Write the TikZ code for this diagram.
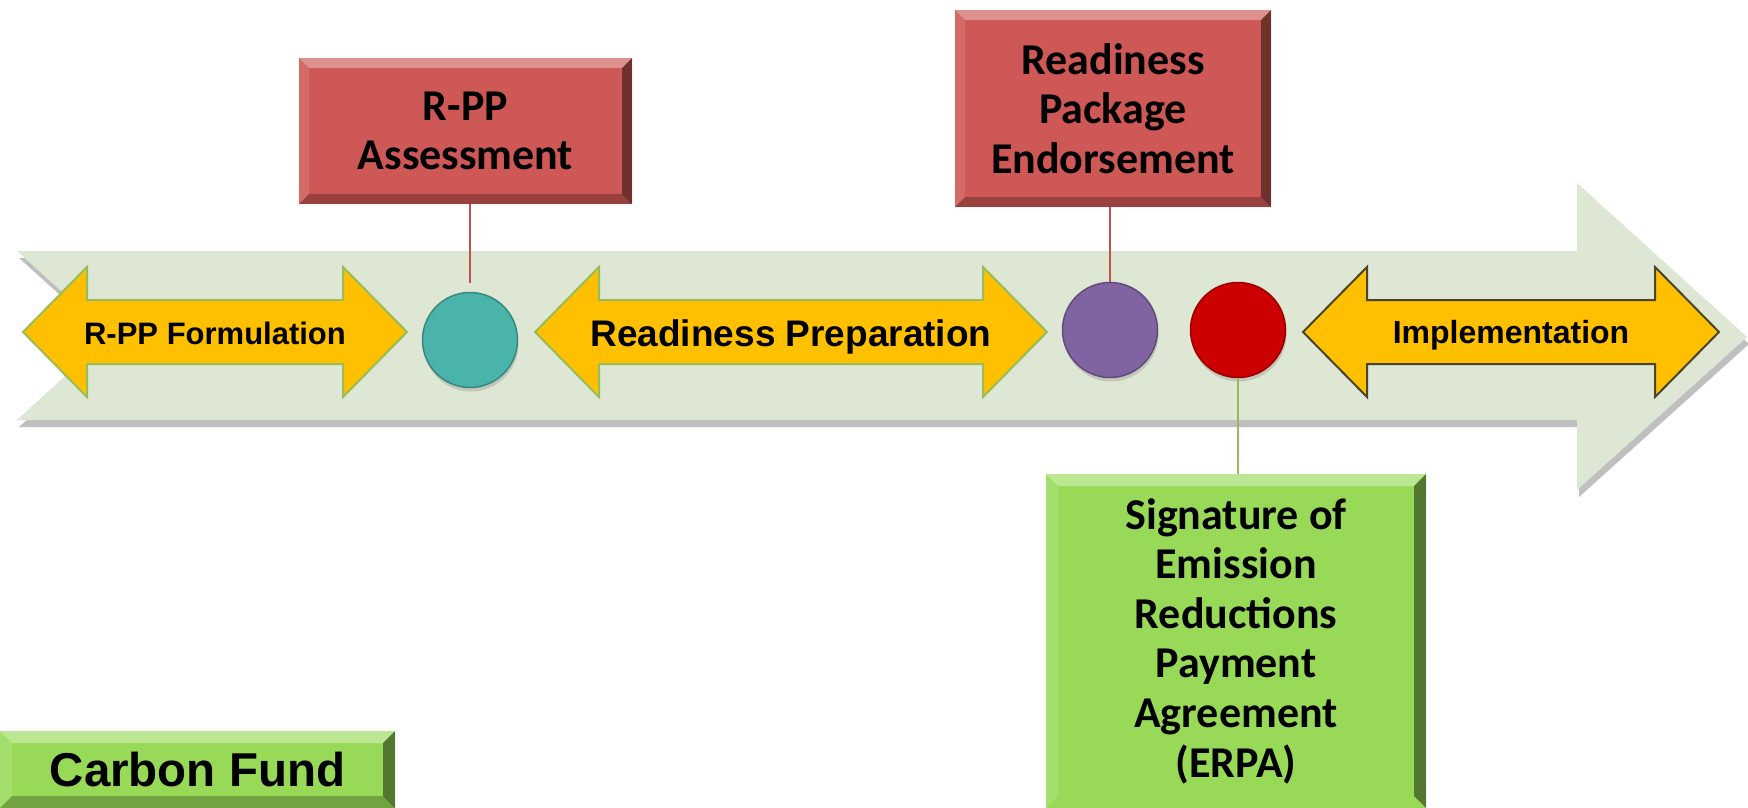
\documentclass[tikz,border=0pt]{standalone}
\usepackage{fontspec}
\setmainfont{Carlito}
\newfontfamily\arialfont{Liberation Sans}
\usetikzlibrary{shadows}

\definecolor{bandgreen}{RGB}{222,231,211}
\definecolor{amber}{RGB}{255,192,0}
\definecolor{leafedge}{RGB}{155,187,89}
\definecolor{darkedge}{RGB}{74,69,42}
\definecolor{boxred}{RGB}{205,88,85}
\definecolor{linered}{RGB}{192,80,77}
\definecolor{boxgreen}{RGB}{152,218,88}
\definecolor{dotteal}{RGB}{75,180,170}
\definecolor{dotpurple}{RGB}{128,100,162}
\definecolor{dotred}{RGB}{204,0,0}

\tikzset{
  bevel base/.initial=.25,
  bevel/.style={path picture={
    \path (path picture bounding box.north west) coordinate (bnw)
          (path picture bounding box.north east) coordinate (bne)
          (path picture bounding box.south east) coordinate (bse)
          (path picture bounding box.south west) coordinate (bsw);
    \fill[white,opacity=.35] (bnw) -- (bne) -- ([shift={(-#1,-#1)}]bne) -- ([shift={(#1,-#1)}]bnw) -- cycle;
    \fill[white,opacity=.12] (bnw) -- ([shift={(#1,-#1)}]bnw) -- ([shift={(#1,#1)}]bsw) -- (bsw) -- cycle;
    \fill[black,opacity=.45] (bne) -- (bse) -- ([shift={(-#1,#1)}]bse) -- ([shift={(-#1,-#1)}]bne) -- cycle;
    \fill[black,opacity=\pgfkeysvalueof{/tikz/bevel base}] (bsw) -- (bse) -- ([shift={(-#1,#1)}]bse) -- ([shift={(#1,#1)}]bsw) -- cycle;
  }},
  band/.style={fill=bandgreen, drop shadow={shadow xshift=2pt, shadow yshift=-7pt, opacity=.5}},
  twoway/.style={fill=amber, draw=leafedge, line width=2pt, line join=miter},
  phase/.style={font=\arialfont\bfseries, anchor=base, inner sep=0pt},
  milestone/.style={circle, minimum size=95pt, inner sep=0pt, line width=1.5pt,
    drop shadow={shadow xshift=1pt, shadow yshift=-4pt, opacity=.3}},
  gatebox/.style={fill=boxred, bevel=10pt, align=center, inner sep=0pt,
    font=\bfseries\fontsize{44}{49.5}\selectfont},
  fundbox/.style={fill=boxgreen, bevel=12pt, align=center, inner sep=0pt},
  tick/.style={line width=2pt}
}

\begin{document}
\begin{tikzpicture}[x=1pt, y=-1pt]
        \useasboundingbox (0,0) rectangle (1748,808);

        % timeline band
        \fill[band] (17,251) -- (1577,251) -- (1577,183) -- (1747,337) -- (1577,490)
          -- (1577,420) -- (17,420) -- (110,335) -- cycle;

        % phases
        \draw[twoway] (23,332) -- (87,267) -- (87,300) -- (343,300) -- (343,267) -- (407,332)
          -- (343,397) -- (343,364) -- (87,364) -- (87,397) -- cycle;
        \draw[twoway] (535,332) -- (599,267) -- (599,300) -- (983,300) -- (983,267) -- (1047,332)
          -- (983,397) -- (983,364) -- (599,364) -- (599,397) -- cycle;
        \draw[twoway, draw=darkedge] (1303,332) -- (1367,267) -- (1367,300) -- (1655,300) -- (1655,267) -- (1719,332)
          -- (1655,397) -- (1655,364) -- (1367,364) -- (1367,397) -- cycle;
        \node[phase, font=\arialfont\bfseries\fontsize{31}{36}\selectfont] at (215,344) (rppf) {R-PP Formulation};
        \node[phase, font=\arialfont\bfseries\fontsize{37}{42}\selectfont] at (791,346) (prep) {Readiness Preparation};
        \node[phase, font=\arialfont\bfseries\fontsize{32}{37}\selectfont] at (1511,343) (impl) {Implementation};

        % milestones
        \node[milestone, fill=dotteal, draw=dotteal!75!black] at (470,340) (teal) {};
        \node[milestone, fill=dotpurple, draw=dotpurple!75!black] at (1110,330) (purple) {};
        \node[milestone, fill=dotred, draw=dotred!75!black] at (1238,330) (red) {};

        % decisions
        \node[gatebox, minimum width=333pt, minimum height=146pt] at (465.5,131) (rpa) {R-PP\\Assessment};
        \node[gatebox, minimum width=316pt, minimum height=197pt] at (1113,108.5) (rpe) {Readiness\\Package\\Endorsement};
        \node[fundbox, bevel base=0, minimum width=380pt, minimum height=334pt, font=\bfseries\fontsize{44}{49.6}\selectfont]
          at (1236,641) (erpa) {Signature of\\Emission\\Reductions\\Payment\\Agreement\\(ERPA)};
        \node[fundbox, minimum width=395pt, minimum height=77pt, font=\arialfont\bfseries\fontsize{47.5}{54}\selectfont]
          at (197.5,769.5) (cf) {Carbon Fund};

        \draw[tick, linered, shorten >=9pt] (teal.north |- rpa.south) -- (teal.north);
        \draw[tick, linered] (purple.north |- rpe.south) -- (purple.north);
        \draw[tick, leafedge] (red.south) -- (red.south |- erpa.north);
\end{tikzpicture}
\end{document}
